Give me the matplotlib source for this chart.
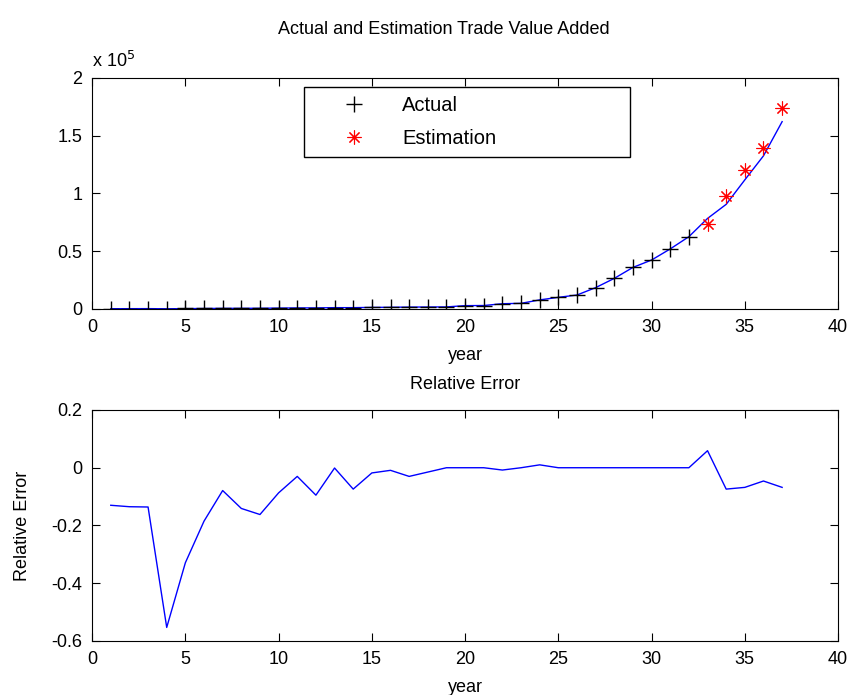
import matplotlib
matplotlib.use("Agg")
import matplotlib.pyplot as plt
from matplotlib.ticker import FuncFormatter

plt.rcParams['font.family'] = ['Liberation Sans', 'DejaVu Sans']

# actual data, years 1..32
actual_years = list(range(1, 33))
actual = [280, 320, 360, 420, 480, 540, 600, 680, 760, 850, 950, 1050, 1150, 1250,
          1400, 1500, 1700, 1750, 1800, 2900, 3000, 4600, 4900, 7800, 10100, 12100,
          18500, 26500, 36000, 42400, 52000, 62600]

# estimation points, years 33..37
est_years = [33, 34, 35, 36, 37]
estimation = [74000, 97800, 120000, 139000, 174000]

# fitted curve, years 1..37
fit_years = list(range(1, 38))
fitted = [244, 277, 311, 188, 322, 440, 553, 584, 637, 776, 922, 950, 1150, 1158,
          1375, 1487, 1649, 1724, 1800, 2900, 3000, 4563, 4900, 7878, 10100, 12100,
          18500, 26500, 36000, 42400, 52000, 62600, 78400, 90600, 111800, 132600, 162200]

# relative error, years 1..37
rel_err = [-0.130, -0.135, -0.136, -0.553, -0.329, -0.185, -0.079, -0.141, -0.162,
           -0.087, -0.030, -0.095, -0.001, -0.074, -0.018, -0.009, -0.030, -0.015,
           0.0, 0.0, 0.0, -0.008, 0.0, 0.010, 0.0, 0.0, 0.0, 0.0, 0.0, 0.0, 0.0, 0.0,
           0.059, -0.074, -0.068, -0.046, -0.068]

fs = 13
fig = plt.figure(figsize=(8.53, 6.95), dpi=100)
ax1 = fig.add_axes([0.108, 0.5554, 0.8745, 0.3324])
ax2 = fig.add_axes([0.108, 0.0777, 0.8745, 0.3324])

blue = '#0000ff'
ax1.plot(fit_years, fitted, color=blue, lw=1.0)
ax1.plot(actual_years, actual, '+', color='black', ms=11, mew=1.0, label='Actual')
ax1.plot(est_years, estimation, marker=(8, 2, 0), ls='none', color='red', ms=10,
         mew=0.8, label='Estimation')
ax1.set_xlim(0, 40)
ax1.set_ylim(0, 200000)
ax1.set_yticks([0, 50000, 100000, 150000, 200000])
ax1.yaxis.set_major_formatter(FuncFormatter(lambda v, p: '%g' % (v / 1e5)))
ax1.set_xlabel('year', fontsize=fs, labelpad=8)
ax1.text(0.0, 1.03, r'x 10$^5$', transform=ax1.transAxes, fontsize=fs,
         ha='left', va='bottom')
fig.text(0.52, 0.958, 'Actual and Estimation Trade Value Added', fontsize=fs,
         ha='center', va='center')
leg = ax1.legend(loc='upper left', bbox_to_anchor=(0.2846, 0.0, 0.436, 0.961),
                 mode='expand', fontsize=14.5, frameon=True, fancybox=False,
                 edgecolor='black', framealpha=1, borderpad=0.45,
                 handlelength=4.0, handletextpad=0.4, labelspacing=0.7,
                 borderaxespad=0)
leg.get_frame().set_linewidth(1.0)

ax2.plot(fit_years, rel_err, color=blue, lw=1.0)
ax2.set_xlim(0, 40)
ax2.set_ylim(-0.6, 0.2)
ax2.set_yticks([-0.6, -0.4, -0.2, 0, 0.2])
ax2.yaxis.set_major_formatter(FuncFormatter(lambda v, p: '%g' % round(v, 1)))
ax2.set_xlabel('year', fontsize=fs, labelpad=8)
ax2.set_ylabel('Relative Error', fontsize=fs, labelpad=15)
ax2.set_title('Relative Error', fontsize=fs, pad=15)

for ax in (ax1, ax2):
    ax.set_xticks(range(0, 41, 5))
    ax.tick_params(direction='in', top=True, right=True, length=6, labelsize=fs,
                   width=0.8, pad=7)
    for s in ax.spines.values():
        s.set_linewidth(0.8)

fig.savefig('out.png', dpi=100)
